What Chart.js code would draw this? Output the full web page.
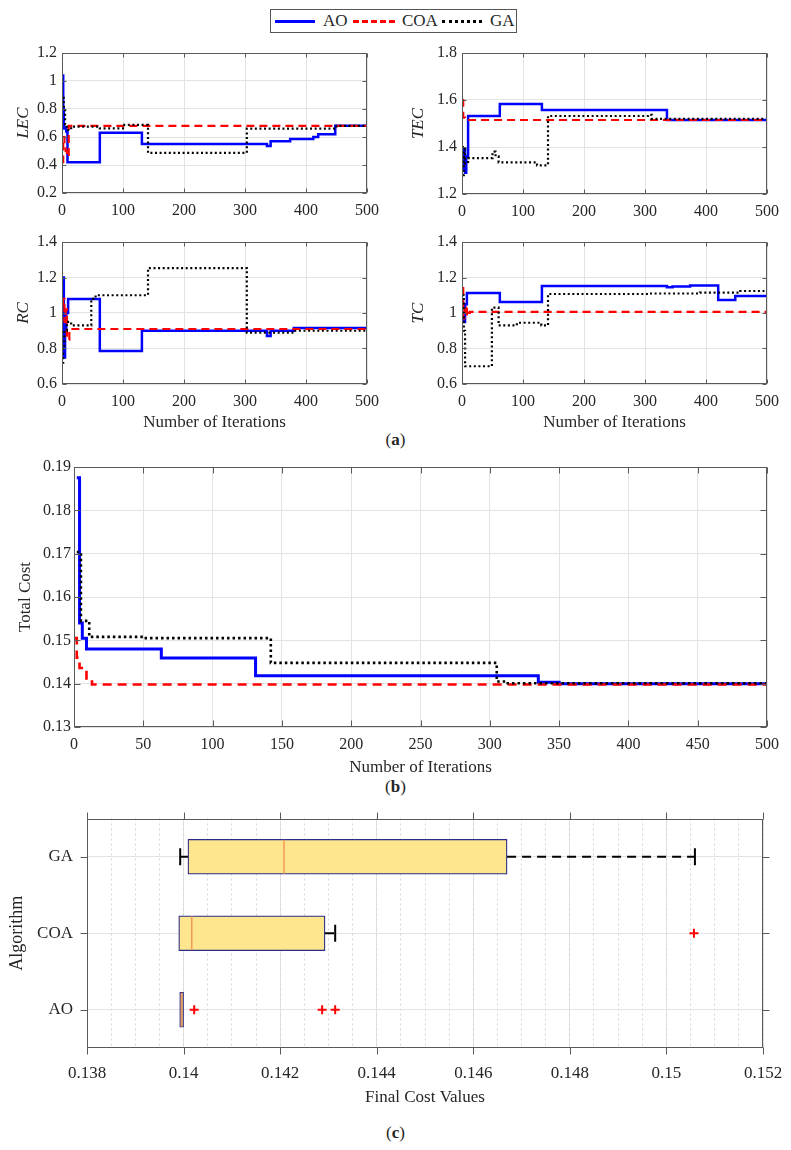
<!DOCTYPE html>
<html>
<head>
<meta charset="utf-8">
<script src="https://cdn.jsdelivr.net/npm/chart.js@4/dist/chart.umd.min.js"></script>
<style>
  body { margin: 0; background: #fff; }
  #page { position: relative; width: 791px; height: 1150px; font-family: 'Liberation Serif', serif; color: #262626; }
  .abs { position: absolute; }
  .cap { position: absolute; left: 0; width: 791px; text-align: center; font-size: 17px; }
  #legend { left: 270px; top: 9px; width: 247px; height: 24px; border: 1px solid #555; box-sizing: border-box; font-size: 17px; }
  #legend span.t { position: absolute; top: 1px; }
  #legend span.l { position: absolute; top: 10px; height: 0; }
</style>
</head>
<body>
<div id="page">
  <div id="legend" class="abs">
    <span class="l" style="left:4px;width:40px;border-top:3px solid #0000ff"></span>
    <span class="t" style="left:52px">AO</span>
    <span class="l" style="left:82px;width:42px;border-top:3px dashed #ff0000"></span>
    <span class="t" style="left:131px">COA</span>
    <span class="l" style="left:171px;width:40px;border-top:3px dotted #000"></span>
    <span class="t" style="left:219px">GA</span>
  </div>
  <div class="cap" style="top:430px">(<b>a</b>)</div>
  <div class="cap" style="top:777px">(<b>b</b>)</div>
  <div class="cap" style="top:1123px">(<b>c</b>)</div>
</div>
<script>
Chart.defaults.font.family = "'Liberation Serif', serif";
Chart.defaults.color = '#262626';

// ---------- (a) convergence of the four cost components ----------
const iterTicks = [0, 100, 200, 300, 400, 500];

const lecTicks = [0.2, 0.4, 0.6, 0.8, 1, 1.2];
const lecItAO = [1, 2, 3, 5, 7, 9, 62, 131, 336, 342, 374, 412, 420, 448, 500];
const lecAO = [1.04, 0.80, 0.66, 0.67, 0.64, 0.42, 0.63, 0.55, 0.535, 0.57, 0.585, 0.60, 0.62, 0.68, 0.68];
const lecItCOA = [0, 2, 4, 6, 8, 11, 500];
const lecCOA = [0.42, 0.60, 0.55, 0.50, 0.46, 0.68, 0.68];
const lecItGA = [1, 3, 5, 8, 15, 62, 100, 141, 303, 450, 500];
const lecGA = [0.88, 0.80, 0.69, 0.65, 0.674, 0.662, 0.686, 0.486, 0.66, 0.68, 0.68];

const tecTicks = [1.2, 1.4, 1.6, 1.8];
const tecItAO = [1, 3, 5, 7, 10, 62, 131, 336, 500];
const tecAO = [1.30, 1.39, 1.29, 1.36, 1.532, 1.583, 1.557, 1.515, 1.515];
const tecItCOA = [0, 2, 5, 500];
const tecCOA = [1.60, 1.525, 1.515, 1.515];
const tecItGA = [1, 3, 5, 10, 50, 55, 60, 123, 141, 305, 311, 500];
const tecGA = [1.28, 1.40, 1.33, 1.353, 1.38, 1.36, 1.335, 1.322, 1.532, 1.537, 1.52, 1.515];

const rcTicks = [0.6, 0.8, 1, 1.2, 1.4];
const rcItAO = [1, 3, 5, 7, 10, 62, 131, 336, 342, 380, 500];
const rcAO = [1.20, 0.75, 0.90, 1.00, 1.079, 0.786, 0.90, 0.87, 0.90, 0.915, 0.92];
const rcItCOA = [0, 2, 4, 6, 8, 12, 500];
const rcCOA = [1.05, 1.08, 0.95, 1.02, 0.85, 0.91, 0.91];
const rcItGA = [0, 2, 4, 8, 15, 48, 55, 141, 303, 380, 500];
const rcGA = [0.72, 0.80, 0.90, 0.95, 0.93, 1.08, 1.10, 1.253, 0.89, 0.90, 0.90];

const tcTicks = [0.6, 0.8, 1, 1.2, 1.4];
const tcItAO = [1, 3, 5, 8, 62, 131, 336, 345, 374, 420, 448, 500];
const tcAO = [1.00, 0.95, 1.05, 1.113, 1.062, 1.152, 1.145, 1.15, 1.155, 1.073, 1.096, 1.096];
const tcItCOA = [0, 2, 4, 6, 8, 10, 13, 500];
const tcCOA = [1.14, 0.97, 1.02, 0.98, 1.03, 1.00, 1.006, 1.006];
const tcItGA = [0, 3, 5, 49, 60, 90, 130, 141, 305, 390, 456, 500];
const tcGA = [1.10, 0.90, 0.70, 1.03, 0.93, 0.945, 0.93, 1.107, 1.11, 1.115, 1.124, 1.124];

// ---------- (b) total cost ----------
const costIterTicks = [0, 50, 100, 150, 200, 250, 300, 350, 400, 450, 500];
const costTicks = [0.13, 0.14, 0.15, 0.16, 0.17, 0.18, 0.19];
const costItAO = [2, 4, 6, 9, 63, 131, 335, 350, 500];
const costAO = [0.1875, 0.154, 0.1505, 0.148, 0.1459, 0.1418, 0.1403, 0.1400, 0.1399];
const costItCOA = [0, 2, 4, 7, 9, 13, 500];
const costCOA = [0.1505, 0.146, 0.1436, 0.143, 0.1405, 0.1398, 0.1398];
const costItGA = [2, 5, 11, 50, 142, 305, 312, 500];
const costGA = [0.1704, 0.1545, 0.1508, 0.1505, 0.1448, 0.1405, 0.1401, 0.1400];

// ---------- (c) final cost box plot ----------
const algorithms = ['AO', 'COA', 'GA'];
const boxQ1 = [0.13992, 0.13990, 0.14009];
const boxMedian = [0.13996, 0.14017, 0.14208];
const boxQ3 = [0.14000, 0.14293, 0.14670];
const whiskerLow = [0.13992, 0.13990, 0.13993];
const whiskerHigh = [0.14000, 0.14314, 0.15059];
const outlierAlg = ['AO', 'AO', 'AO', 'COA'];
const outlierVal = [0.14022, 0.14287, 0.14314, 0.15057];
const finalTicks = [0.138, 0.14, 0.142, 0.144, 0.146, 0.148, 0.15, 0.152];

const GRID = '#e3e3e3';
const AXIS = '#5a5a5a';

const fmt = v => String(+Number(v).toFixed(4));

// axes frame + MATLAB-style ticks on all four sides
const framePlugin = {
  id: 'frame',
  afterDraw(chart, args, opts) {
    const {ctx, chartArea: a} = chart;
    const L = Math.round(a.left) + 0.5, R = Math.round(a.right) - 0.5;
    const T = Math.round(a.top) + 0.5, B = Math.round(a.bottom) - 0.5;
    ctx.save();
    ctx.strokeStyle = AXIS;
    ctx.lineWidth = 1;
    ctx.strokeRect(L, T, R - L, B - T);
    const d = opts.tickLen || 0;
    if (d) {
      ctx.beginPath();
      const xs = chart.scales.x, ys = chart.scales.y;
      xs.ticks.forEach((t, i) => {
        const p = Math.round(xs.getPixelForTick(i)) + 0.5;
        ctx.moveTo(p, B); ctx.lineTo(p, B - d);
        ctx.moveTo(p, T); ctx.lineTo(p, T + d);
      });
      ys.ticks.forEach((t, i) => {
        const p = Math.round(ys.getPixelForTick(i)) + 0.5;
        ctx.moveTo(L, p); ctx.lineTo(L + d, p);
        ctx.moveTo(R, p); ctx.lineTo(R - d, p);
      });
      ctx.stroke();
    }
    ctx.restore();
  }
};

function makeCanvas(box) {
  const c = document.createElement('canvas');
  c.width = box[2];
  c.height = box[3];
  c.style.cssText = `position:absolute;left:${box[0]}px;top:${box[1]}px;width:${box[2]}px;height:${box[3]}px`;
  document.getElementById('page').appendChild(c);
  return c;
}

// canvas box [left, top, w, h] and plot area [x0, y0, x1, y1] in page pixels
function fitTo(box, area) {
  return {
    padding: {left: 0, bottom: 0, top: area[1] - box[1], right: box[0] + box[2] - area[2]},
    yWidth: area[0] - box[0],
    xHeight: box[1] + box[3] - area[3]
  };
}

// label gap is done with an invisible tick so it does not grow the layout padding
function gridWithGap(gap, extra) {
  return Object.assign({color: GRID, drawTicks: true, tickLength: gap, tickColor: 'rgba(0,0,0,0)'}, extra || {});
}

const STYLE = {
  AO: {borderColor: '#0000ff', borderWidth: 2.5, order: 3},
  COA: {borderColor: '#ff0000', borderWidth: 2.2, borderDash: [8, 5], order: 2},
  GA: {borderColor: '#000000', borderWidth: 2.2, borderDash: [2, 2.6], order: 1}
};

function pts(it, v) { return it.map((x, i) => ({x, y: v[i]})); }

function stepSet(name, it, v, extra) {
  return Object.assign({label: name, data: pts(it, v), stepped: true, pointRadius: 0, fill: false}, STYLE[name], extra || {});
}

function tickList(arr) {
  return s => { s.ticks = arr.map(value => ({value})); };
}

function lineChart(box, area, cfg) {
  const f = fitTo(box, area);
  new Chart(makeCanvas(box), {
    type: 'line',
    data: {datasets: cfg.series},
    options: {
      responsive: false, animation: false, events: [],
      layout: {padding: f.padding},
      plugins: {legend: {display: false}, tooltip: {enabled: false}, frame: {tickLen: cfg.tickLen}},
      scales: {
        x: {
          type: 'linear', min: cfg.xTicks[0], max: cfg.xTicks[cfg.xTicks.length - 1],
          afterBuildTicks: tickList(cfg.xTicks),
          afterFit: s => { s.height = f.xHeight; },
          grid: gridWithGap(8), border: {display: false},
          ticks: {padding: 0, font: {size: cfg.tickSize}, maxRotation: 0, autoSkip: false, callback: fmt},
          title: {display: !!cfg.xTitle, text: cfg.xTitle || '', font: {size: 17}, padding: {top: 0, bottom: 4}}
        },
        y: {
          type: 'linear', min: cfg.yTicks[0], max: cfg.yTicks[cfg.yTicks.length - 1],
          afterBuildTicks: tickList(cfg.yTicks),
          afterFit: s => { s.width = f.yWidth; },
          grid: gridWithGap(cfg.yPad), border: {display: false},
          ticks: {padding: 0, font: {size: cfg.tickSize}, autoSkip: false, callback: fmt},
          title: {display: true, text: cfg.yTitle, font: {size: 17, style: cfg.italic ? 'italic' : 'normal'}, padding: {top: cfg.yTitlePad, bottom: 0}}
        }
      }
    },
    plugins: [framePlugin]
  });
}

function smallPanel(box, area, yTitle, yTicks, series, xTitle) {
  lineChart(box, area, {series, xTicks: iterTicks, yTicks, yTitle, xTitle, italic: true,
    tickLen: 4, tickSize: 16, yPad: 5, yTitlePad: 4});
}

smallPanel([9, 40, 376, 182], [62, 53, 367, 193], 'LEC', lecTicks,
  [stepSet('AO', lecItAO, lecAO), stepSet('COA', lecItCOA, lecCOA), stepSet('GA', lecItGA, lecGA)]);
smallPanel([404, 40, 380, 182], [462, 53, 767, 194], 'TEC', tecTicks,
  [stepSet('AO', tecItAO, tecAO), stepSet('COA', tecItCOA, tecCOA), stepSet('GA', tecItGA, tecGA)]);
smallPanel([9, 230, 376, 207], [62, 242, 367, 384], 'RC', rcTicks,
  [stepSet('AO', rcItAO, rcAO), stepSet('COA', rcItCOA, rcCOA), stepSet('GA', rcItGA, rcGA)], 'Number of Iterations');
smallPanel([404, 230, 380, 207], [462, 242, 767, 384], 'TC', tcTicks,
  [stepSet('AO', tcItAO, tcAO), stepSet('COA', tcItCOA, tcCOA), stepSet('GA', tcItGA, tcGA)], 'Number of Iterations');

lineChart([0, 455, 791, 327], [74, 467, 767, 727], {
  series: [
    stepSet('AO', costItAO, costAO, {borderWidth: 3}),
    stepSet('COA', costItCOA, costCOA, {borderWidth: 2.6, borderDash: [9, 6]}),
    stepSet('GA', costItGA, costGA, {borderWidth: 2.6, borderDash: [2.5, 3]})
  ],
  xTicks: costIterTicks, yTicks: costTicks, yTitle: 'Total Cost', xTitle: 'Number of Iterations',
  italic: false, tickLen: 6, tickSize: 16, yPad: 3, yTitlePad: 15
});

// ---------- box plot ----------
(function () {
  const box = [0, 800, 791, 312], area = [87, 815, 763, 1048];
  const f = fitTo(box, area);
  const datasets = [];
  datasets.push({
    type: 'bar', label: 'box', order: 10,
    data: algorithms.map((a, i) => [boxQ1[i], boxQ3[i]]),
    backgroundColor: '#fee68f', borderColor: '#2b2b8a', borderWidth: 1.3,
    borderSkipped: false, barThickness: 35
  });
  algorithms.forEach((a, i) => {
    [[whiskerLow[i], boxQ1[i]], [boxQ3[i], whiskerHigh[i]]].forEach(seg => {
      if (seg[0] === seg[1]) return;
      datasets.push({
        type: 'line', order: 5, data: seg.map(x => ({x, y: a})),
        borderColor: '#000', borderWidth: 2, borderDash: [9, 6], pointRadius: 0
      });
    });
  });
  const caps = [];
  algorithms.forEach((a, i) => {
    if (whiskerLow[i] < boxQ1[i]) caps.push({x: whiskerLow[i], y: a});
    if (whiskerHigh[i] > boxQ3[i]) caps.push({x: whiskerHigh[i], y: a});
  });
  datasets.push({
    type: 'scatter', order: 1, data: caps,
    pointStyle: 'line', rotation: 90, pointRadius: 8.5, borderColor: '#000', borderWidth: 2
  });
  datasets.push({
    type: 'scatter', order: 0, data: algorithms.map((a, i) => ({x: boxMedian[i], y: a})),
    pointStyle: 'line', rotation: 90, pointRadius: 17, borderColor: '#f39a55', borderWidth: 1.5
  });
  datasets.push({
    type: 'scatter', order: 0, data: outlierAlg.map((a, i) => ({x: outlierVal[i], y: a})),
    pointStyle: 'cross', pointRadius: 4.5, borderColor: '#ff0000', borderWidth: 2
  });

  new Chart(makeCanvas(box), {
    type: 'bar',
    data: {labels: algorithms, datasets},
    options: {
      indexAxis: 'y',
      responsive: false, animation: false, events: [],
      layout: {padding: f.padding},
      plugins: {legend: {display: false}, tooltip: {enabled: false}, frame: {tickLen: -7}},
      scales: {
        x: {
          type: 'linear', min: finalTicks[0], max: finalTicks[finalTicks.length - 1],
          afterBuildTicks: tickList(finalTicks),
          afterFit: s => { s.height = f.xHeight; },
          grid: gridWithGap(15), border: {display: false},
          ticks: {padding: 0, font: {size: 17}, maxRotation: 0, autoSkip: false, callback: fmt},
          title: {display: true, text: 'Final Cost Values', font: {size: 17}, padding: {top: 0, bottom: 4}}
        },
        xMinor: {
          type: 'linear', position: 'bottom', min: finalTicks[0], max: finalTicks[finalTicks.length - 1],
          ticks: {display: false, stepSize: 0.0005},
          afterFit: s => { s.height = 0; },
          grid: {color: '#d6d6d6', drawTicks: false, lineWidth: 1},
          border: {display: false, dash: [2, 3]}
        },
        y: {
          type: 'category', reverse: true, offset: true,
          afterFit: s => { s.width = f.yWidth; },
          grid: gridWithGap(14, {offset: false}), border: {display: false},
          ticks: {padding: 0, font: {size: 17}},
          title: {display: true, text: 'Algorithm', font: {size: 18}, padding: {top: 6, bottom: 0}}
        }
      }
    },
    plugins: [framePlugin]
  });
})();
</script>
</body>
</html>
